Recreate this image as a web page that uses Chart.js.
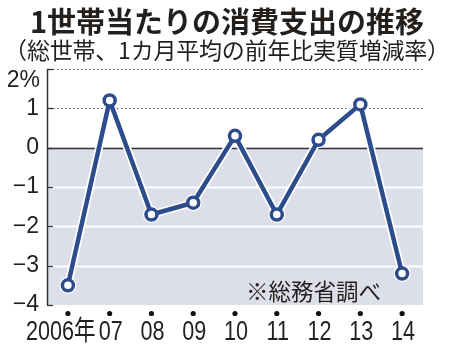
<!DOCTYPE html>
<html lang="ja">
<head>
<meta charset="utf-8">
<script src="https://cdn.jsdelivr.net/npm/chart.js@4/dist/chart.umd.min.js"></script>
<style>
  html, body { margin: 0; padding: 0; background: #fff; }
  #wrap { position: relative; width: 454px; height: 358px; overflow: hidden; }
  #c { position: absolute; left: 0; top: 0; }
  .t { position: absolute; white-space: nowrap; color: #231f1c; font-family: 'Noto Sans CJK JP', sans-serif; }
  #title { left: 0; width: 454px; text-align: center; top: 2px; font-size: 29px; font-weight: 700; line-height: 36px; }
  #sub { left: -4px; width: 462px; text-align: center; top: 34px; font-size: 23px; font-weight: 400; line-height: 30px; letter-spacing: -0.2px; }
  #note { left: 246px; top: 274px; font-size: 22.5px; line-height: 32px; }
</style>
</head>
<body>
<div id="wrap">
  <canvas id="c" width="454" height="358"></canvas>
  <div class="t" id="title">1世帯当たりの消費支出の推移</div>
  <div class="t" id="sub">（総世帯、1カ月平均の前年比実質増減率）</div>
  <div class="t" id="note">※総務省調べ</div>
</div>
<script>
const categories = ['2006年', '07', '08', '09', '10', '11', '12', '13', '14'];
const spendingChange = [-3.5, 1.2, -1.7, -1.4, 0.3, -1.7, 0.2, 1.1, -3.2];
const yTickValues = [2, 1, 0, -1, -2, -3, -4];
const yTopLabel = '2%';

const LINE_BLUE = '#2c4c8c';
const INK = '#231f1c';
const LAVENDER = '#dcdeea';

const tickFont = "'Liberation Sans', 'Noto Sans CJK JP', sans-serif";

const decorPlugin = {
  id: 'decor',
  beforeDatasetsDraw(chart) {
    const { ctx, chartArea: a, scales } = chart;
    const y = scales.y, x = scales.x;
    const L = a.left, R = a.right;
    ctx.save();
    const y0 = y.getPixelForValue(0);
    const yMin = y.getPixelForValue(-4);
    ctx.fillStyle = LAVENDER;
    ctx.fillRect(L, y0, R - L, yMin - y0);
    yTickValues.forEach(v => {
      const py = Math.round(y.getPixelForValue(v)) + 0.5;
      if (v > 0) {
        ctx.strokeStyle = '#555';
        ctx.lineWidth = 1.2;
        ctx.setLineDash([1.5, 2.5]);
        ctx.beginPath(); ctx.moveTo(L + 6, py); ctx.lineTo(R, py); ctx.stroke();
        ctx.setLineDash([]);
      } else if (v < 0 && v > -4) {
        ctx.strokeStyle = '#ffffff';
        ctx.lineWidth = 2;
        ctx.beginPath(); ctx.moveTo(L, py); ctx.lineTo(R, py); ctx.stroke();
      } else if (v === 0) {
        ctx.strokeStyle = '#333';
        ctx.lineWidth = 1.3;
        ctx.beginPath(); ctx.moveTo(L, py); ctx.lineTo(R, py); ctx.stroke();
      }
      ctx.strokeStyle = '#333';
      ctx.lineWidth = 1.3;
      ctx.beginPath(); ctx.moveTo(L, py); ctx.lineTo(L + 6, py); ctx.stroke();
    });
    ctx.strokeStyle = '#333';
    ctx.lineWidth = 1.5;
    ctx.beginPath(); ctx.moveTo(L + 0.5, a.top); ctx.lineTo(L + 0.5, a.bottom + 0.5); ctx.stroke();
    // top y label (sits below its tick in the original)
    ctx.fillStyle = INK;
    ctx.font = "23px " + tickFont;
    ctx.textAlign = 'right';
    ctx.textBaseline = 'middle';
    ctx.fillText(yTopLabel, 40, y.getPixelForValue(2) + 12);
    // dots + condensed category labels
    categories.forEach((c, i) => {
      const px = x.getPixelForValue(i);
      ctx.fillStyle = '#111';
      ctx.beginPath(); ctx.arc(px, a.bottom + 8.5, 2.6, 0, Math.PI * 2); ctx.fill();
      ctx.save();
      ctx.fillStyle = INK;
      ctx.font = "27px " + tickFont;
      ctx.textAlign = 'center';
      ctx.textBaseline = 'middle';
      const cx = i === 0 ? px - 7 : px + 1;
      ctx.translate(cx, a.bottom + 28);
      ctx.scale(0.8, 1);
      ctx.fillText(c, 0, 0);
      ctx.restore();
    });
    ctx.restore();
  }
};

new Chart(document.getElementById('c'), {
  type: 'line',
  data: {
    labels: categories,
    datasets: [
      {
        data: spendingChange,
        order: 0,
        borderColor: LINE_BLUE,
        borderWidth: 4.5,
        pointRadius: 5.5,
        pointBorderWidth: 3.5,
        pointBackgroundColor: '#ffffff',
        pointBorderColor: LINE_BLUE,
        tension: 0,
        borderJoinStyle: 'round'
      },
      {
        data: spendingChange,
        order: 1,
        borderColor: '#ffffff',
        borderWidth: 8,
        pointRadius: 8.5,
        pointBorderWidth: 0,
        pointBackgroundColor: '#ffffff',
        pointBorderColor: '#ffffff',
        tension: 0,
        borderJoinStyle: 'round'
      }
    ]
  },
  options: {
    responsive: false,
    animation: false,
    devicePixelRatio: 1,
    layout: { padding: { top: 69, right: 31, left: 0, bottom: 0 } },
    plugins: { legend: { display: false }, tooltip: { enabled: false }, title: { display: false } },
    scales: {
      x: {
        type: 'category',
        offset: true,
        grid: { display: false, drawTicks: false },
        border: { display: false },
        ticks: { display: false },
        afterFit(s) { s.height = 53; }
      },
      y: {
        min: -4, max: 2,
        grid: { display: false, drawTicks: false },
        border: { display: false },
        afterBuildTicks(s) { s.ticks = yTickValues.map(v => ({ value: v })); },
        ticks: {
          color: INK,
          font: { family: tickFont, size: 23 },
          padding: 8,
          callback(v) { if (v === 2) return ''; return v < 0 ? '−' + Math.abs(v) : String(v); }
        },
        afterFit(s) { s.width = 47; }
      }
    }
  },
  plugins: [decorPlugin]
});
</script>
</body>
</html>
